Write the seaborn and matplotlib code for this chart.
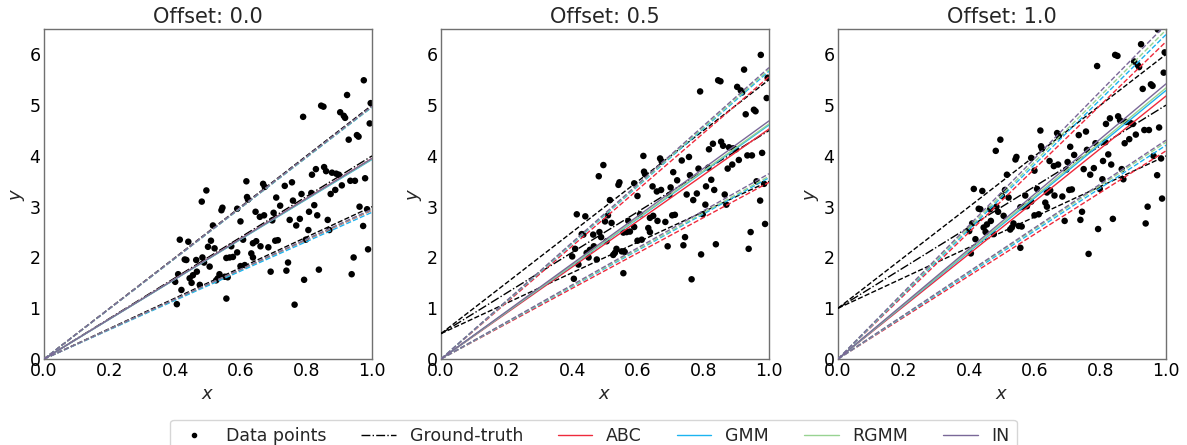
import numpy as np
import pandas as pd
import matplotlib
matplotlib.use("Agg")
import matplotlib.pyplot as plt
import seaborn as sns
from matplotlib.lines import Line2D

# ---------------- data ----------------
offsets = [0.0, 0.5, 1.0]
titles = ["Offset: 0.0", "Offset: 0.5", "Offset: 1.0"]

# data points at offset 0 (the other panels are shifted by the offset)
x_pts = [0.975, 0.924, 0.790, 0.845, 0.852, 0.903, 0.914, 0.918, 0.996, 0.993,
         0.929, 0.954, 0.959, 0.817, 0.829, 0.854, 0.860, 0.878, 0.891, 0.899,
         0.908, 0.888, 0.874, 0.934, 0.948, 0.979, 0.973, 0.962, 0.985, 0.988,
         0.944, 0.938, 0.838, 0.793, 0.764, 0.691, 0.739, 0.744, 0.785, 0.815,
         0.824, 0.808, 0.833, 0.865, 0.870, 0.806, 0.798, 0.780, 0.769, 0.759,
         0.756, 0.734, 0.708, 0.720, 0.749, 0.700, 0.696, 0.713, 0.705, 0.684,
         0.668, 0.673, 0.617, 0.619, 0.622, 0.645, 0.658, 0.671, 0.647, 0.637,
         0.632, 0.637, 0.660, 0.612, 0.599, 0.599, 0.589, 0.607, 0.589, 0.576,
         0.566, 0.556, 0.551, 0.560, 0.556, 0.571, 0.541, 0.544, 0.515, 0.509,
         0.520, 0.500, 0.495, 0.481, 0.535, 0.530, 0.525, 0.505, 0.488, 0.483,
         0.475, 0.464, 0.466, 0.450, 0.444, 0.454, 0.440, 0.434, 0.429, 0.414,
         0.419, 0.409, 0.400, 0.405]
y_pts = [5.49, 5.20, 4.77, 4.99, 4.97, 4.86, 4.79, 4.75, 5.04, 4.64,
         4.32, 4.41, 4.38, 3.63, 3.74, 3.78, 3.70, 3.67, 3.65, 3.63,
         3.42, 3.33, 3.25, 3.51, 3.51, 3.56, 2.62, 3.00, 2.95, 2.16,
         2.00, 1.67, 1.76, 1.56, 1.07, 1.72, 1.74, 1.90, 3.25, 3.27,
         3.03, 2.90, 2.83, 2.74, 2.54, 2.54, 2.35, 2.76, 2.63, 3.12,
         3.48, 3.41, 3.18, 3.02, 2.74, 2.88, 2.73, 2.34, 2.33, 2.20,
         3.45, 3.39, 3.50, 3.19, 3.14, 2.90, 2.80, 2.83, 2.32, 2.28,
         2.08, 2.00, 2.22, 1.85, 1.83, 2.71, 2.96, 2.35, 2.10, 2.01,
         2.00, 1.99, 1.62, 1.61, 1.19, 2.22, 2.93, 2.98, 2.63, 2.33,
         2.18, 2.21, 3.32, 3.10, 1.67, 1.59, 1.55, 1.82, 1.90, 2.00,
         1.46, 1.95, 1.72, 1.50, 1.59, 1.65, 2.31, 1.95, 1.96, 2.35,
         1.36, 1.67, 1.52, 1.08]

# ground truth: intercept = offset, slopes of mean / upper / lower
gt_slopes = [4.0, 5.0, 3.0]

methods = ["ABC", "GMM", "RGMM", "IN"]
method_colors = {"ABC": "#ee2a3c", "GMM": "#1cb4f0", "RGMM": "#98d392", "IN": "#7a6898"}
# fitted lines through the origin: slope of mean, upper, lower per panel
fit_slopes = {
    "ABC":  [[3.95, 4.97, 2.93], [4.53, 5.56, 3.48], [5.18, 6.25, 4.10]],
    "GMM":  [[3.93, 4.96, 2.89], [4.61, 5.67, 3.57], [5.29, 6.39, 4.21]],
    "RGMM": [[3.94, 4.97, 2.94], [4.63, 5.70, 3.60], [5.34, 6.48, 4.27]],
    "IN":   [[3.95, 4.98, 2.95], [4.69, 5.74, 3.65], [5.42, 6.59, 4.31]],
}

x_line = np.array([0.0, 1.0])

# ---------------- figure ----------------
sns.set_style("ticks")
plt.rcParams["font.family"] = ["DejaVu Sans"]
fig = plt.figure(figsize=(11.87, 4.45), dpi=100)
W, H = 1187, 445
lefts = [44, 441, 838]
axes = [fig.add_axes([l / W, (H - 359) / H, 328 / W, 330 / H]) for l in lefts]

pts = pd.DataFrame({"x": x_pts, "y0": y_pts})

for ax, off, title in zip(axes, offsets, titles):
    df = pts.assign(y=pts["y0"] + off)
    sns.scatterplot(data=df, x="x", y="y", ax=ax, color="black", s=22,
                    edgecolor="none", zorder=2)
    # ground truth
    for k, sl in enumerate(gt_slopes):
        ls = "-." if k == 0 else "--"
        sns.lineplot(x=x_line, y=off + sl * x_line, ax=ax, color="black",
                     linestyle=ls, linewidth=1.0, zorder=3)
    # fitted models
    pidx = offsets.index(off)
    for m in methods:
        sl = fit_slopes[m][pidx]
        for k, s in enumerate(sl):
            ls = "-" if k == 0 else "--"
            sns.lineplot(x=x_line, y=s * x_line, ax=ax, color=method_colors[m],
                         linestyle=ls, linewidth=1.0, zorder=4)
    ax.set_xlim(0, 1)
    ax.set_ylim(0, 6.5)
    ax.set_xticks([0.0, 0.2, 0.4, 0.6, 0.8, 1.0])
    ax.set_yticks([0, 1, 2, 3, 4, 5, 6])
    ax.tick_params(labelsize=12.5, colors="black", length=0, pad=2.5)
    ax.set_xlabel("$x$", fontsize=13, labelpad=3)
    ax.set_ylabel("$y$", fontsize=13, labelpad=2)
    ax.set_title(title, fontsize=15, pad=4)
    for sp in ax.spines.values():
        sp.set_color("#707070")
        sp.set_linewidth(1.0)

handles = [
    Line2D([], [], color="black", marker="o", linestyle="none", markersize=3),
    Line2D([], [], color="black", linestyle="-.", linewidth=1.0),
] + [Line2D([], [], color=method_colors[m], linewidth=1.0) for m in methods]
labels = ["Data points", "Ground-truth"] + methods
fig.legend(handles, labels, loc="upper center", bbox_to_anchor=(0.5, 25 / H),
           borderaxespad=0, ncol=6, fontsize=12.5, frameon=True, columnspacing=2.0)

fig.savefig("out.png", dpi=100)
